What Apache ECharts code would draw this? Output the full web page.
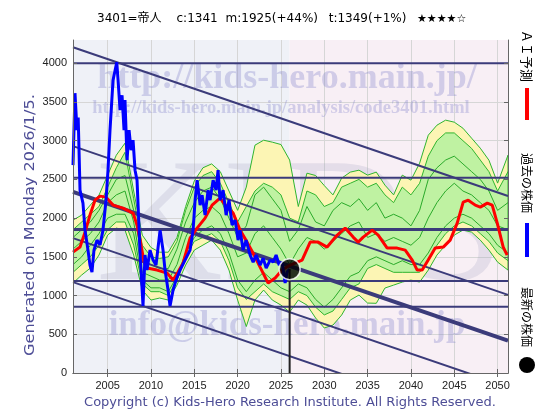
<!DOCTYPE html>
<html><head><meta charset="utf-8">
<script src="https://cdn.jsdelivr.net/npm/echarts@6/dist/echarts.min.js"></script>
<style>html,body{margin:0;padding:0;background:#fff}#c{width:560px;height:420px}</style>
</head><body><div id="c"></div>
<script>
// ---- data ----
const xTicks = [2005, 2010, 2015, 2020, 2025, 2030, 2035, 2040, 2045, 2050];
const yTicks = [0, 500, 1000, 1500, 2000, 2500, 3000, 3500, 4000];
const latest = [2026.0, 1341];
const levelValues = [4000, 2520, 1854, 1187, 855];
const trendStartValues = [4206, 2929, 2339, 1742, 1174]; // at 2001
const trendEndValues = [2286, 1009, 419, -178, -746];    // at 2051.2
const pastPrice = [
  [2001.0,2684],[2001.23,3613],[2001.46,3135],[2001.6,3300],[2001.81,2361],[2002.15,2194],[2002.39,1845],
  [2002.73,1587],[2002.96,1394],[2003.19,1303],[2003.42,1587],[2003.77,1716],[2004.12,1652],[2004.46,1845],
  [2004.81,2232],[2005.04,2619],[2005.27,3135],[2005.62,3781],[2006.05,4013],[2006.2,3781],[2006.43,3394],
  [2006.66,3587],[2006.89,3135],[2007.0,3523],[2007.24,2748],[2007.47,3135],[2007.7,2877],[2007.93,3006],
  [2008.16,2619],[2008.39,2490],[2008.74,1548],[2009.08,865],[2009.31,1523],[2009.54,1329],[2009.89,1587],
  [2010.24,1458],[2010.58,1394],[2011.05,1845],[2011.39,1587],[2011.62,1329],[2011.97,1071],[2012.2,865],
  [2012.55,1071],[2012.89,1200],[2013.36,1329],[2013.93,1458],[2014.51,1587],[2014.86,1845],[2015.09,2232],
  [2015.32,2490],[2015.67,2168],[2015.9,2297],[2016.24,2039],[2016.59,2361],[2016.82,2232],[2017.17,2490],
  [2017.51,2361],[2017.74,2619],[2017.97,2232],[2018.32,2361],[2018.67,2039],[2019.01,2232],[2019.36,1910],
  [2019.71,1974],[2020.05,1716],[2020.28,1845],[2020.63,1587],[2020.98,1716],[2021.44,1523],[2021.79,1432],
  [2022.13,1523],[2022.59,1394],[2022.94,1484],[2023.29,1355],[2023.75,1458],[2024.09,1432],[2024.44,1523],
  [2024.79,1394],[2025.13,1432],[2025.48,1161],[2025.71,1303],[2026.0,1341]
];
const aiForecast = [
  [2001.0,1561],[2001.81,1626],[2002.39,1819],[2002.96,2039],[2003.54,2232],[2004.12,2284],[2004.81,2271],
  [2005.62,2168],[2006.77,2129],[2007.93,2065],[2008.39,1910],[2008.74,1716],[2009.2,1432],[2009.54,1355],
  [2010.7,1329],[2011.85,1290],[2012.55,1200],[2013.12,1303],[2013.7,1419],[2014.51,1742],[2015.32,1871],
  [2016.24,2000],[2017.05,2168],[2017.97,2258],[2018.78,2142],[2019.48,2065],[2020.28,1845],[2021.09,1690],
  [2021.9,1523],[2022.59,1368],[2023.52,1161],[2024.33,1226],[2025.13,1329],[2026.06,1394],[2027.44,1458],
  [2028.37,1690],[2029.29,1690],[2030.33,1626],[2031.49,1781],[2032.41,1871],[2033.33,1755],[2033.91,1690],
  [2034.49,1755],[2035.53,1845],[2036.22,1781],[2037.26,1613],[2038.41,1613],[2039.34,1587],[2040.15,1458],
  [2040.72,1329],[2041.3,1329],[2041.99,1458],[2042.8,1613],[2043.73,1626],[2044.53,1716],[2045.34,1935],
  [2046.03,2206],[2046.61,2232],[2047.42,2168],[2048.0,2142],[2048.81,2194],[2049.38,2168],[2049.96,1935],
  [2050.65,1626],[2051.1,1523]
];
const bandYears = [2001,2002,2003,2004,2005,2006,2007,2008,2009,2010,2011,2012,2013,2014,2015,2016,2017,2018,
  2019,2020,2021,2022,2023,2024,2025,2026,2027,2028,2029,2030,2031,2032,2033,2034,2035,2036,2037,2038,2039,
  2040,2041,2042,2043,2044,2045,2046,2047,2048,2049,2050,2051.2];
const outerUpper = [1974,2039,2168,2297,2555,2813,2968,2350,1780,1620,
  1560,1560,1750,2150,2480,2650,2700,2600,2350,2100,
  2400,2942,3006,2981,2950,2750,2150,2580,2550,2420,
  2300,2516,2594,2619,2555,2594,2426,2300,2555,2490,
  2710,3071,3200,3265,3239,3161,3032,2903,2748,2452,2813];
const outerLower = [1161,1265,1355,1523,1781,1871,1845,1523,1071,942,
  968,942,1135,1394,1587,1652,1716,1587,1329,942,
  600,942,1071,942,877,787,942,877,710,581,
  619,748,942,1006,903,900,1097,1135,1174,1200,
  1174,1329,1523,1652,1781,1845,1819,1716,1587,1432,1329];
const innerUpper = [1850,1950,2050,2150,2400,2650,2850,2250,1650,1500,
  1480,1500,1700,2100,2400,2550,2600,2450,2200,1950,
  2150,2350,2450,2400,2300,2000,1950,2350,2300,2150,
  2200,2400,2450,2500,2400,2450,2300,2200,2400,2300,
  2450,2800,3000,3100,3100,3000,2900,2750,2600,2350,2600];
const innerLower = [1300,1400,1500,1650,1850,1950,1950,1650,1150,1050,
  1050,1000,1200,1500,1700,1750,1800,1700,1450,1100,
  950,1050,1150,1050,1000,950,1050,1000,850,750,
  800,950,1100,1150,1350,1400,1350,1300,1300,1300,
  1300,1450,1650,1800,1900,1950,1900,1800,1700,1550,1450];
const greenA = [1750,1850,1950,2100,2300,2500,2550,2100,1450,1400,
  1350,1350,1600,1950,2200,2350,2400,2250,2000,1750,
  1900,2300,2400,2250,2100,1700,1850,2150,1950,1900,
  2100,2200,2150,2250,2100,2200,2000,2050,2000,1900,
  2100,2500,2650,2750,2800,2700,2600,2500,2350,2100,2200];
const greenB = [1400,1500,1650,1800,2000,2050,2050,1800,1200,1100,
  1100,1050,1250,1550,1750,1850,1900,1800,1550,1200,
  1050,1200,1300,1200,1100,1050,1150,1100,950,850,
  950,1100,1250,1300,1450,1500,1450,1400,1450,1400,
  1400,1550,1750,1900,2000,2050,2000,1900,1800,1650,1550];
const greenC = [1600,1700,1800,1950,2200,2300,2350,1950,1300,1250,
  1200,1200,1400,1750,2000,2100,2150,2050,1800,1500,
  1550,1800,1900,1750,1600,1400,1600,1750,1700,1600,
  1700,1800,1900,1950,1750,1800,1700,1750,1700,1650,
  1750,2000,2200,2350,2450,2350,2300,2200,2100,1900,1850];

// ---- chart ----
const X0 = 2001, X1 = 2051.2;
const NAVY = '#3b3b7a';
const chart = echarts.init(document.getElementById('c'), null, {renderer: 'canvas'});

function band(upper, lower, fill, z) {
  return {
    type: 'custom', z: z, silent: true, clip: true,
    data: [[X0, 0]],
    renderItem: function (params, api) {
      const pts = [];
      for (let i = 0; i < bandYears.length; i++) pts.push(api.coord([bandYears[i], upper[i]]));
      for (let i = bandYears.length - 1; i >= 0; i--) pts.push(api.coord([bandYears[i], lower[i]]));
      return {type: 'polygon', shape: {points: pts}, style: {fill: fill, stroke: '#2fb52f', lineWidth: 1}};
    }
  };
}
function greenLine(vals) {
  return {type: 'line', z: 4, silent: true, symbol: 'none', animation: false,
    lineStyle: {color: '#2aaa2a', width: 1},
    data: bandYears.map((y, i) => [y, vals[i]])};
}
const series = [];
// background halves
series.push({type: 'line', z: 0, silent: true, symbol: 'none', data: [[X0, 0]], lineStyle: {opacity: 0},
  markArea: {silent: true, z: 0, data: [
    [{xAxis: X0, itemStyle: {color: '#eff1f7'}}, {xAxis: latest[0]}],
    [{xAxis: latest[0], itemStyle: {color: '#f8eff5'}}, {xAxis: X1}]
  ]}});
// grid lines
series.push({type: 'line', z: 0, silent: true, symbol: 'none', data: [[X0, 0]], lineStyle: {opacity: 0},
  markLine: {silent: true, z: 0.5, symbol: 'none', label: {show: false}, animation: false,
    lineStyle: {color: '#d6d6d6', width: 1, type: 'solid'},
    data: xTicks.map(v => ({xAxis: v})).concat(yTicks.slice(1).map(v => ({yAxis: v})))}});
series.push(band(outerUpper, outerLower, '#fcf5b4', 2));
series.push(band(innerUpper, innerLower, '#bff2a2', 3));
series.push(greenLine(greenA), greenLine(greenB), greenLine(greenC));
// level lines
const levelWidths = [2, 2, 3, 2, 2];
levelValues.forEach((v, i) => series.push({type: 'line', z: 5, silent: true, symbol: 'none',
  lineStyle: {color: NAVY, width: levelWidths[i]}, data: [[X0, v], [X1, v]]}));
// trend channel lines
const trendWidths = [2, 2, 4, 2, 2];
trendStartValues.forEach((v, i) => series.push({type: 'line', z: 5, silent: true, symbol: 'none', clip: true,
  lineStyle: {color: NAVY, width: trendWidths[i]}, data: [[X0, v], [X1, trendEndValues[i]]]}));
series.push({type: 'line', z: 6, silent: true, symbol: 'none', lineStyle: {color: '#ff0000', width: 3},
  data: aiForecast});
series.push({type: 'line', z: 7, silent: true, symbol: 'none', lineStyle: {color: '#0000ff', width: 3},
  data: pastPrice});
series.push({type: 'line', z: 7, silent: true, symbol: 'none', lineStyle: {color: '#222', width: 2},
  data: [[latest[0], 0], latest]});
series.push({type: 'scatter', z: 10, silent: true, symbolSize: 21, data: [latest],
  itemStyle: {color: '#000', borderColor: '#fff', borderWidth: 1.5}});

const axCommon = {type: 'value', z: 9, splitLine: {show: false},
  axisLine: {show: true, lineStyle: {color: '#666', width: 1}}};
const labelFont = {fontSize: 11, color: '#222', fontFamily: 'Liberation Sans', formatter: v => String(v)};
const WM = 'rgba(120,120,200,0.30)';
const serif = '"Liberation Serif","DejaVu Serif",serif';
const jp = '"Noto Sans CJK JP","DejaVu Sans",sans-serif';
const sans = '"DejaVu Sans",sans-serif';
const graphics = [
  {type: 'text', z: 1, silent: true, x: 300, y: 233, style: {text: 'KIDS', font: '175px ' + serif, fill: 'rgba(150,150,185,0.2)', align: 'center', verticalAlign: 'middle'}},
  {type: 'text', z: 1, silent: true, x: 287, y: 79, style: {text: 'http://kids-hero.main.jp/', font: 'bold 36px ' + serif, fill: WM, align: 'center', verticalAlign: 'middle'}},
  {type: 'text', z: 1, silent: true, x: 281, y: 108, style: {text: 'http://kids-hero.main.jp/analysis/code3401.html', font: 'bold 18.5px ' + serif, fill: WM, align: 'center', verticalAlign: 'middle'}},
  {type: 'text', z: 1, silent: true, x: 287, y: 326, style: {text: 'info@kids-hero.main.jp', font: 'bold 35px ' + serif, fill: WM, align: 'center', verticalAlign: 'middle'}},
  // title pieces
  {type: 'text', x: 97, y: 19, style: {text: '3401=帝人', font: '12px "DejaVu Sans","Noto Sans CJK JP"', fill: '#000', verticalAlign: 'middle'}},
  {type: 'text', x: 176.5, y: 19, style: {text: 'c:1341', font: '12px ' + sans, fill: '#000', verticalAlign: 'middle'}},
  {type: 'text', x: 225.6, y: 19, style: {text: 'm:1925(+44%)', font: '12px ' + sans, fill: '#000', verticalAlign: 'middle'}},
  {type: 'text', x: 328.7, y: 19, style: {text: 't:1349(+1%)', font: '12px ' + sans, fill: '#000', verticalAlign: 'middle'}},
  {type: 'text', x: 417, y: 19, style: {text: '★★★★☆', font: '11px ' + sans, fill: '#000', verticalAlign: 'middle'}},
  // side texts
  {type: 'text', x: 30, y: 225, rotation: Math.PI / 2, scaleX: 1.15, style: {text: 'Generated on Monday 2026/1/5.', font: '14px ' + sans, fill: '#4d4d96', align: 'center', verticalAlign: 'middle'}},
  {type: 'text', x: 290, y: 403, style: {text: 'Copyright (c) Kids-Hero Research Institute. All Rights Reserved.', font: '13px ' + sans, fill: '#4d4d96', align: 'center', verticalAlign: 'middle'}},
  // legend
  {type: 'text', x: 527, y: 30, rotation: -Math.PI / 2, style: {text: 'ＡＩ予測', font: '13px ' + jp, fill: '#000', align: 'left', verticalAlign: 'middle'}},
  {type: 'line', shape: {x1: 527, y1: 88, x2: 527, y2: 120}, style: {stroke: '#ff0000', lineWidth: 4}},
  {type: 'text', x: 527, y: 153, rotation: -Math.PI / 2, style: {text: '過去の株価', font: '12px ' + jp, fill: '#000', align: 'left', verticalAlign: 'middle'}},
  {type: 'line', shape: {x1: 527, y1: 223, x2: 527, y2: 257}, style: {stroke: '#0000ff', lineWidth: 4}},
  {type: 'text', x: 527, y: 287, rotation: -Math.PI / 2, style: {text: '最新の株価', font: '12px ' + jp, fill: '#000', align: 'left', verticalAlign: 'middle'}},
  {type: 'circle', shape: {cx: 527, cy: 365, r: 8}, style: {fill: '#000'}}
];

chart.setOption({
  animation: false,
  backgroundColor: '#ffffff',
  grid: {left: 73, right: 52, top: 40, bottom: 47, containLabel: false},
  xAxis: [
    Object.assign({}, axCommon, {min: X0, max: X1, position: 'bottom',
      axisTick: {show: true, inside: true, length: 4, customValues: xTicks, lineStyle: {color: '#666'}},
      axisLabel: Object.assign({customValues: xTicks, margin: 7}, labelFont)}),
    Object.assign({}, axCommon, {min: X0, max: X1, position: 'top',
      axisTick: {show: true, inside: true, length: 4, customValues: xTicks, lineStyle: {color: '#666'}},
      axisLabel: {show: false}})
  ],
  yAxis: [
    Object.assign({}, axCommon, {min: 0, max: 4300, position: 'left',
      axisTick: {show: true, inside: true, length: 4, customValues: yTicks, lineStyle: {color: '#666'}},
      axisLabel: Object.assign({customValues: yTicks, margin: 6}, labelFont)}),
    Object.assign({}, axCommon, {min: 0, max: 4300, position: 'right',
      axisTick: {show: true, inside: true, length: 4, customValues: yTicks, lineStyle: {color: '#666'}},
      axisLabel: {show: false}})
  ],
  graphic: graphics,
  series: series
});
</script>
</body></html>
